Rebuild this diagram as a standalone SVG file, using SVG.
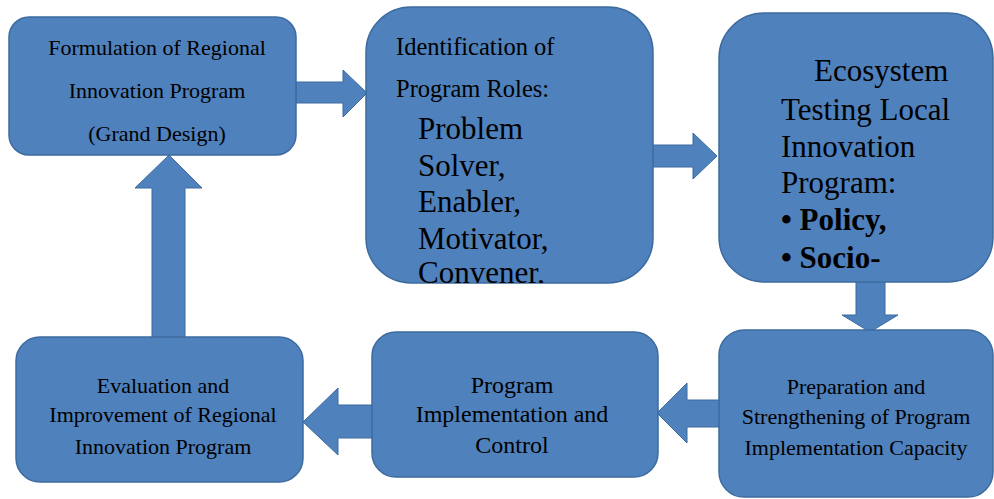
<svg xmlns="http://www.w3.org/2000/svg" width="994" height="499" viewBox="0 0 994 499">
<style>
.box{fill:#4f81bd;stroke:#3d6b9f;stroke-width:1.5}
.arr{fill:#4f81bd;stroke:#3d6b9f;stroke-width:1}
text{font-family:"Liberation Serif","Times New Roman",serif;fill:#000}
.s22{font-size:22px}
.s24{font-size:24px}
.s245{font-size:24.5px}
.s31{font-size:31px}
.b{font-weight:bold}
.c{text-anchor:middle}
</style>
<defs>
<clipPath id="clip2"><rect x="366" y="7" width="287" height="276" rx="45"/></clipPath>
</defs>
<rect width="994" height="499" fill="#fff"/>
<g id="connectors">
<polygon class="arr" points="296,82 343,82 343,70 367,93 343,117 343,103 296,103"/>
<polygon class="arr" points="645,145 693,145 693,133 717,156 693,179 693,167 645,167"/>
<polygon class="arr" points="856,281 885,281 885,315 898,315 870,332 842,315 856,315"/>
<polygon class="arr" points="720,400 687,400 687,383 657,413 687,443 687,427 720,427"/>
<polygon class="arr" points="377,405 338,405 338,388 303,422 338,455 338,438 377,438"/>
<polygon class="arr" points="152,338 152,188 135,188 169,155 202,188 185,188 185,338"/>
</g>
<g id="n1">
<rect class="box" x="9" y="17" width="287" height="138" rx="20"/>
<text class="s22 c" x="157" y="55">Formulation of Regional</text>
<text class="s22 c" x="157" y="98">Innovation Program</text>
<text class="s22 c" x="157" y="141">(Grand Design)</text>
</g>
<g id="n2">
<rect class="box" x="366" y="7" width="287" height="276" rx="45"/>
<g clip-path="url(#clip2)">
<text class="s245" x="396" y="55">Identification of</text>
<text class="s245" x="396" y="97">Program Roles:</text>
<text class="s31" x="418" y="139">Problem</text>
<text class="s31" x="418" y="176">Solver,</text>
<text class="s31" x="418" y="212">Enabler,</text>
<text class="s31" x="418" y="249">Motivator,</text>
<text class="s31" x="418" y="283">Convener,</text>
</g>
</g>
<g id="n3">
<rect class="box" x="719" y="13" width="274" height="269" rx="45"/>
<text class="s31" x="814" y="81">Ecosystem</text>
<text class="s31" x="781" y="120">Testing Local</text>
<text class="s31" x="781" y="157">Innovation</text>
<text class="s31" x="781" y="193">Program:</text>
<text class="s31 b" x="781" y="230">• Policy,</text>
<text class="s31 b" x="781" y="268">• Socio-</text>
</g>
<g id="n4">
<rect class="box" x="719" y="330" width="274" height="167" rx="25"/>
<text class="s22 c" x="856" y="394">Preparation and</text>
<text class="s22 c" x="856" y="424">Strengthening of Program</text>
<text class="s22 c" x="856" y="455">Implementation Capacity</text>
</g>
<g id="n5">
<rect class="box" x="372" y="332" width="286" height="145" rx="24"/>
<text class="s24 c" x="512" y="393">Program</text>
<text class="s24 c" x="512" y="422">Implementation and</text>
<text class="s24 c" x="512" y="453">Control</text>
</g>
<g id="n6">
<rect class="box" x="16" y="337" width="287" height="145" rx="24"/>
<text class="s22 c" x="163" y="393">Evaluation and</text>
<text class="s22 c" x="163" y="422">Improvement of Regional</text>
<text class="s22 c" x="163" y="454">Innovation Program</text>
</g>
</svg>
